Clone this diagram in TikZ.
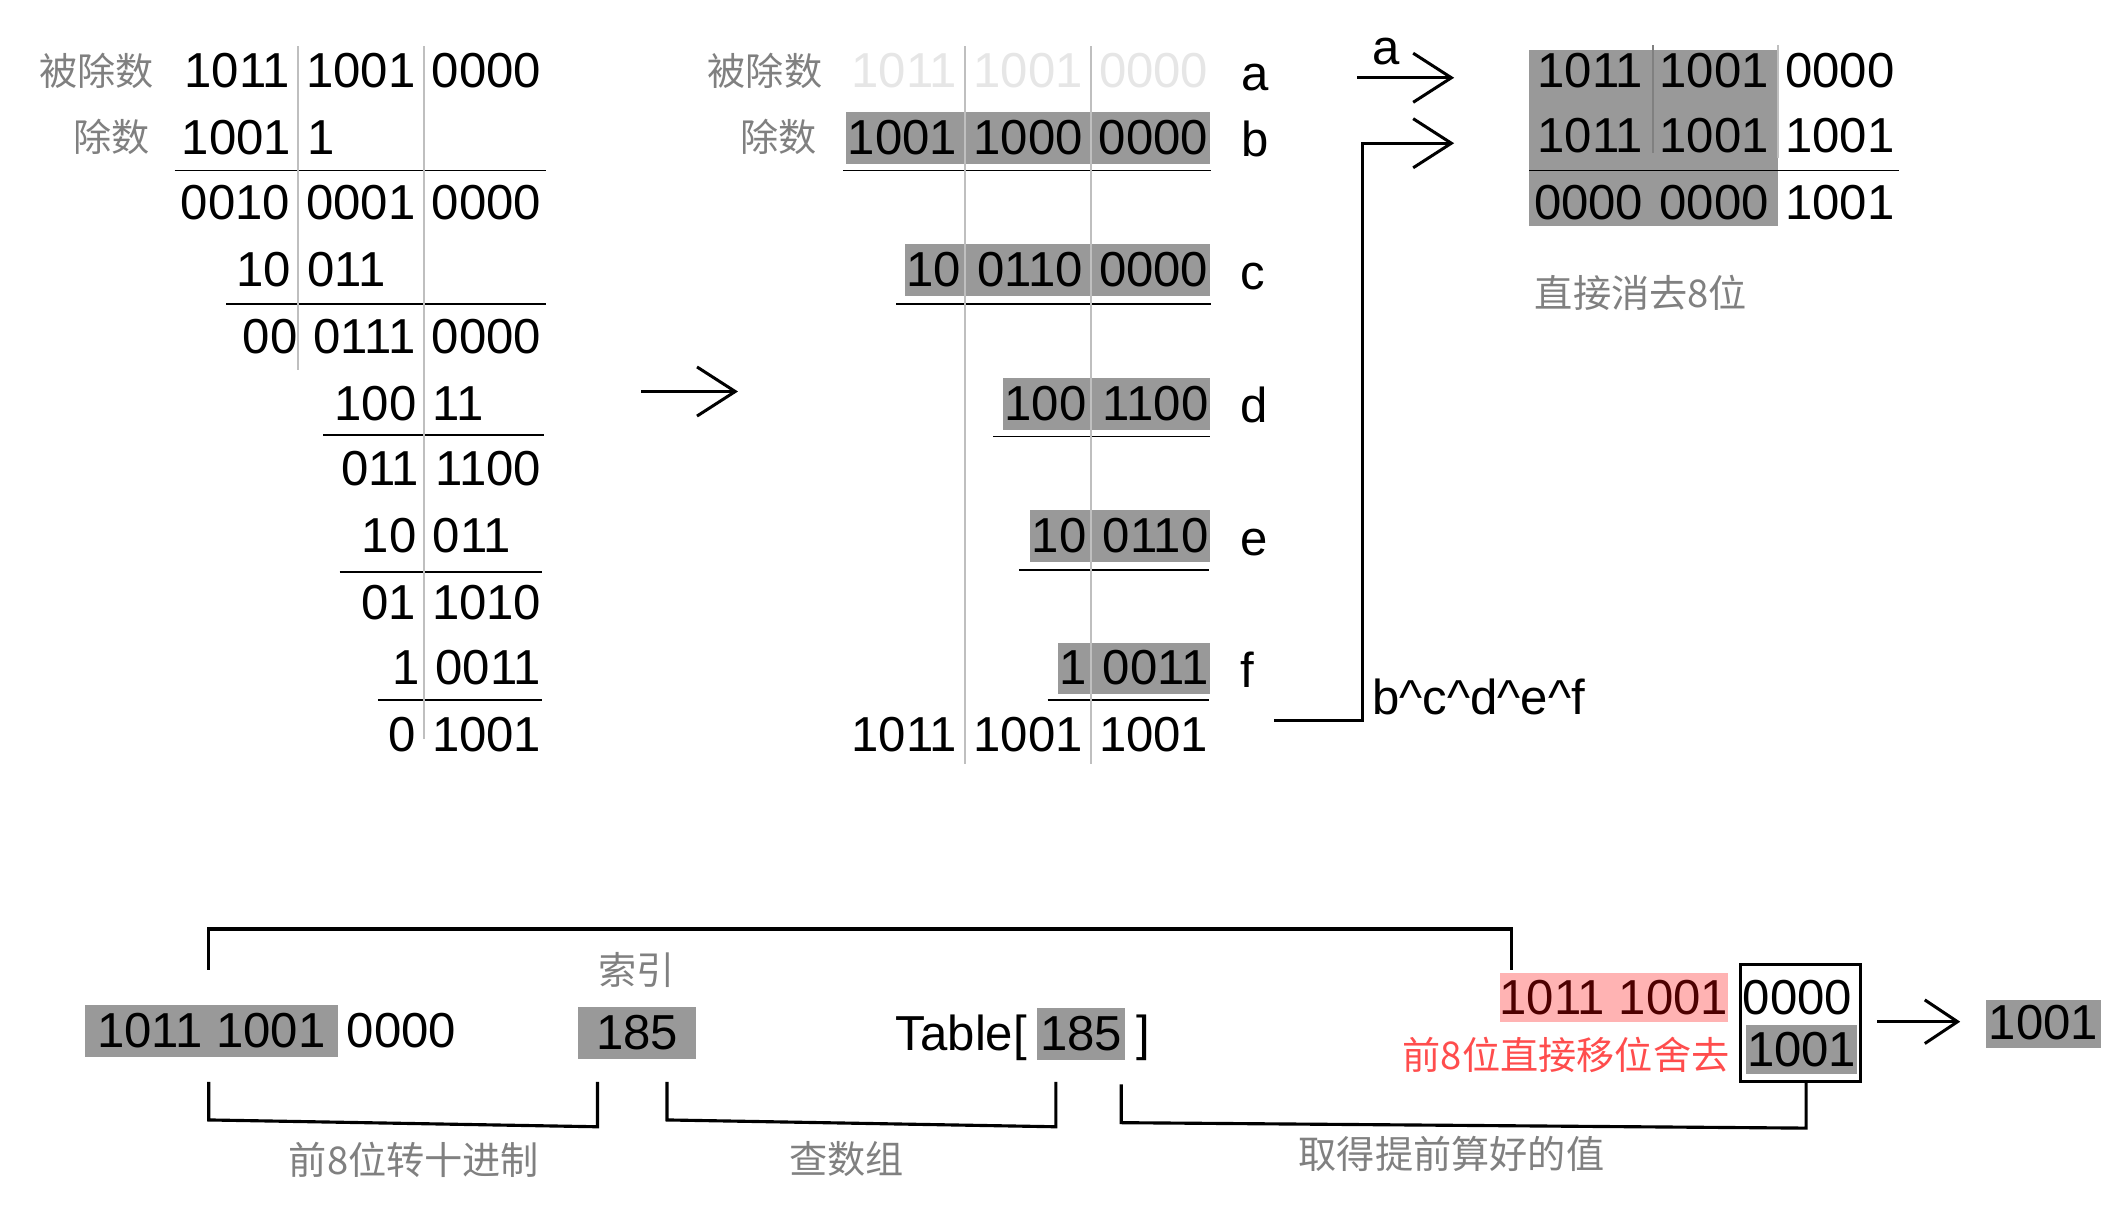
\documentclass[tikz,border=0pt]{standalone}
\usepackage{fontspec}
\setmainfont{Liberation Sans}
\newfontfamily\cjk{Noto Sans CJK SC}
\usepackage{tikz}
\usetikzlibrary{arrows.meta,positioning}

\definecolor{boxgray}{HTML}{999999}
\definecolor{labelgray}{HTML}{808080}
\definecolor{rulegray}{HTML}{BFBFBF}
\definecolor{fadegray}{HTML}{E6E6E6}
\definecolor{pinkbox}{HTML}{FFB3B3}
\definecolor{pinktext}{HTML}{4D0000}
\definecolor{redlabel}{HTML}{FF4D4D}
\newcommand{\grpsep}{\hspace{12pt}}

\begin{document}
\begin{tikzpicture}[x=1pt,y=-1pt,
    num/.style={inner sep=0pt,font=\fontsize{36}{40}\selectfont},
    hl/.style={num,fill=boxgray,text height=31pt,text depth=7pt},
    cn/.style={inner sep=0pt,text=labelgray,font=\cjk\fontsize{28}{32}\selectfont},
    hrule/.style={line width=1.4pt},
    colrule/.style={draw=rulegray,line width=1.2pt},
    bigarrow/.style={line width=2.2pt,-{Straight Barb[length=28pt,width=36pt]}},
    bracket/.style={line width=2.3pt}]
    \useasboundingbox (0,0) rectangle (1560,884);

    % left: long division
    \node[cn,anchor=east] (L_dvd) at (113,52) {被除数};
    \node[cn,anchor=east] (L_dvs) at (110,100) {除数};
    \node[num,anchor=base east] (L_1)  at (397,64)  {1011\grpsep1001\grpsep0000};
    \node[num,anchor=base west] (L_2)  at (133,113) {1001\grpsep1};
    \node[num,anchor=base east] (L_3)  at (397,161) {0010\grpsep0001\grpsep0000};
    \node[num,anchor=base west] (L_4)  at (173,210) {10\grpsep011};
    \node[num,anchor=base east] (L_5)  at (397,259) {00\grpsep0111\grpsep0000};
    \node[num,anchor=base west] (L_6)  at (245,308) {100\grpsep11};
    \node[num,anchor=base east] (L_7)  at (397,356) {011\grpsep1100};
    \node[num,anchor=base west] (L_8)  at (265,405) {10\grpsep011};
    \node[num,anchor=base east] (L_9)  at (397,454) {01\grpsep1010};
    \node[num,anchor=base east] (L_10) at (397,502) {1\grpsep0011};
    \node[num,anchor=base east] (L_11) at (397,551) {0\grpsep1001};
    \draw[hrule] (128,125) -- (400,125);
    \draw[hrule] (166,223) -- (400,223);
    \draw[hrule] (237,319) -- (399,319);
    \draw[hrule] (249,419) -- (397,419);
    \draw[hrule] (277,513) -- (397,513);

    % middle: shifted divisors
    \node[cn,anchor=east] (M_dvd) at (603,52) {被除数};
    \node[cn,anchor=east] (M_dvs) at (599,100) {除数};
    \node[num,anchor=base east,text=fadegray] (M_a) at (886,64) {1011\grpsep1001\grpsep0000};
    \node[hl,anchor=base east,inner xsep=1pt] (M_b) at (887,113) {1001\grpsep1000\grpsep0000};
    \node[hl,anchor=base east,inner xsep=1pt] (M_c) at (887,210) {10\grpsep0110\grpsep0000};
    \node[hl,anchor=base east,inner xsep=1pt] (M_d) at (887,308) {100\grpsep1100};
    \node[hl,anchor=base east,inner xsep=1pt] (M_e) at (887,405) {10\grpsep0110};
    \node[hl,anchor=base east,inner xsep=1pt] (M_f) at (887,502) {1\grpsep0011};
    \node[num,anchor=base east] (M_r) at (886,551) {1011\grpsep1001\grpsep1001};
    \draw[hrule] (618,125) -- (888,125);
    \draw[hrule] (657,223) -- (888,223);
    \draw[hrule] (728,320) -- (887,320);
    \draw[hrule] (747,418) -- (886,418);
    \draw[hrule] (768,513) -- (886,513);
    \node[num,anchor=base west] (T_a) at (910,66)  {a};
    \node[num,anchor=base west] (T_b) at (910,115) {b};
    \node[num,anchor=base west] (T_c) at (909,212) {c};
    \node[num,anchor=base west] (T_d) at (909,310) {d};
    \node[num,anchor=base west] (T_e) at (909,407) {e};
    \node[num,anchor=base west] (T_f) at (909,504) {f};

    % right: xor of a and b^c^d^e^f
    \fill[boxgray] (1121,37) rectangle (1303.5,166);
    \node[num,anchor=base east] (R_1) at (1389,64)  {1011\grpsep1001\grpsep0000};
    \node[num,anchor=base east] (R_2) at (1389,112) {1011\grpsep1001\grpsep1001};
    \node[num,anchor=base east] (R_3) at (1389,161) {0000\grpsep0000\grpsep1001};
    \draw[hrule] (1121,125) -- (1392,125);
    \node[cn,anchor=west] (R_note) at (1125,215) {直接消去8位};

    \coordinate (m_s) at (470,287);
    \coordinate (m_t) at (541,287);
    \coordinate (a_s) at (995,57);
    \coordinate (a_t) at (1066,57);
    \coordinate (x_s) at (934,528);
    \coordinate (x_k) at (999,105);
    \coordinate (x_t) at (1066,105);
    \draw[bigarrow] (m_s) -- (m_t);
    \draw[bigarrow] (a_s) -- (a_t);
    \draw[bigarrow] (x_s) -| (x_k) -- (x_t);
    \node[num,anchor=base] (A_lbl) at (1016,47) {a};
    \node[num,anchor=base west] (X_lbl) at (1006,524) {b\textasciicircum c\textasciicircum d\textasciicircum e\textasciicircum f};

    % bottom: table lookup
    \node[hl,anchor=base west,inner xsep=9pt] (B_bits) at (62,768) {1011 1001};
    \node[num,anchor=base west] (B_rest) at (254,768) {0000};
    \node[hl,anchor=base,minimum width=86pt] (B_idx) at (467,769) {185};
    \node[cn,anchor=center] (B_idxlbl) at (466.5,711) {索引};
    \node[num,anchor=base east] (B_tab) at (753,770) {Table[};
    \node[hl,anchor=base,minimum width=64pt] (B_val) at (792.5,770) {185};
    \node[num,anchor=base west] (B_end) at (833,770) {]};
    \node[num,anchor=base east,fill=pinkbox,text=pinktext,text height=31pt,text depth=5pt] (B_hi) at (1267,744) {1011 1001};
    \node[draw,line width=2.3pt,minimum width=88pt,minimum height=86pt] (B_frame) at (1320,750) {};
    \node[num,anchor=base west] (B_lo) at (1277.5,744) {0000};
    \node[hl,anchor=base west,inner xsep=0.5pt,text height=30.5pt,text depth=5pt] (B_lo2) at (1280,782) {1001};
    \node[cn,anchor=east,text=redlabel] (B_drop) at (1268,773) {前8位直接移位舍去};
    \node[hl,anchor=base,minimum width=84pt,text height=29pt,text depth=6pt] (B_res) at (1498,762) {1001};
    \coordinate (r_s) at (1376,749);
    \coordinate (r_t) at (1437,749);
    \draw[bigarrow,-{Straight Barb[length=24pt,width=32pt]}] (r_s) -- (r_t);

    \coordinate (k_l) at (153,711);
    \coordinate (k_r) at (1108,711);
    \draw[bracket] (k_l) -- ++(0,-30) -| (k_r);
    \draw[bracket] (153,793) -- (153,821) -- (438,826) -- (438,793);
    \draw[bracket] (489,793) -- (489,821) -- (774,826) -- (774,793);
    \draw[bracket] (822,795) -- (822,823) -- (1324,827) -- (1324,793);
    \node[cn] (B_note1) at (303.5,850) {前8位转十进制};
    \node[cn] (B_note2) at (620.5,850) {查数组};
    \node[cn] (B_note3) at (1064,846) {取得提前算好的值};

    % column separators
    \draw[colrule] (218.5,34) -- (218.5,271);
    \draw[colrule] (311,34) -- (311,542);
    \draw[colrule] (707.5,34) -- (707.5,560);
    \draw[colrule] (800,34) -- (800,560);
    \draw[draw=labelgray,line width=1.2pt] (1212,33) -- (1212,112);
    \draw[colrule] (1303.5,33) -- (1303.5,116);
\end{tikzpicture}
\end{document}
